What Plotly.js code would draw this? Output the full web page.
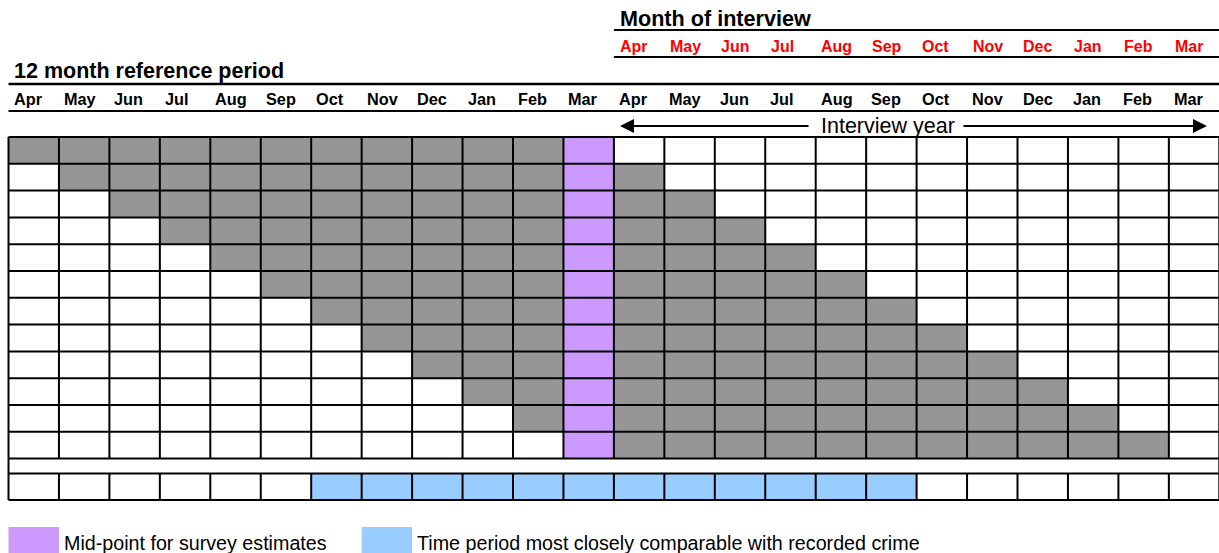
<!DOCTYPE html>
<html>
<head>
<meta charset="utf-8">
<script src="https://cdn.plot.ly/plotly-3.0.1.min.js"></script>
<style>html,body{margin:0;padding:0;background:#fff;}#chart{width:1219px;height:553px;}</style>
</head>
<body>
<div id="chart"></div>
<script>
// ---- data ----
const months = ['Apr','May','Jun','Jul','Aug','Sep','Oct','Nov','Dec','Jan','Feb','Mar'];
const referenceMonths = months.concat(months);          // 24 columns of the 12 month reference period
const interviewMonths = months;                          // month of interview (second half of grid)
// G = within reference period, P = mid-point, B = comparable with recorded crime, . = empty
const gridRows = [
  'GGGGGGGGGGGP............',
  '.GGGGGGGGGGPG...........',
  '..GGGGGGGGGPGG..........',
  '...GGGGGGGGPGGG.........',
  '....GGGGGGGPGGGG........',
  '.....GGGGGGPGGGGG.......',
  '......GGGGGPGGGGGG......',
  '.......GGGGPGGGGGGG.....',
  '........GGGPGGGGGGGG....',
  '.........GGPGGGGGGGGG...',
  '..........GPGGGGGGGGGG..',
  '...........PGGGGGGGGGGG.',
  '........................',
  '......BBBBBBBBBBBB......'
];
const legendLabels = ['Mid-point for survey estimates', 'Time period most closely comparable with recorded crime'];
const axisNote = 'Interview year';
const titleLeft = '12 month reference period';
const titleRight = 'Month of interview';

// ---- styling / layout helpers ----
const GRAY = '#969696', PURPLE = '#CC99FF', BLUE = '#99CCFF';
const codeVal = {'.':0, 'G':1, 'P':2, 'B':3};
const X0 = 8.5, CW = 50.45, Y0 = 137, RH = 26.8;
const px2x = p => (p - X0) / CW;
const px2y = p => (p - Y0) / RH;
const FONT = '"Liberation Sans", Arial, sans-serif';

const nCols = referenceMonths.length;
const xEdges = Array.from({length: nCols + 1}, (_, i) => i);
const yEdges = [];
for (let i = 0; i <= 12; i++) yEdges.push(i);
yEdges.push(px2y(473.5));
yEdges.push(px2y(500));

const z = gridRows.map(r => r.split('').map(ch => codeVal[ch]));

const trace = {
  type: 'heatmap', x: xEdges, y: yEdges, z: z,
  zmin: 0, zmax: 3, zsmooth: false, showscale: false, hoverinfo: 'skip',
  colorscale: [[0,'#FFFFFF'],[0.1667,'#FFFFFF'],[0.1667,GRAY],[0.5,GRAY],[0.5,PURPLE],[0.8333,PURPLE],[0.8333,BLUE],[1,BLUE]]
};

const shapes = [];
const line = (x0,y0,x1,y1,w) => shapes.push({type:'line', xref:'x', yref:'y', x0, y0, x1, y1, line:{color:'#000', width:w||2}});
// horizontal grid lines
yEdges.forEach(y => line(0, y, nCols, y, 2));
// vertical grid lines (not through the blank spacer row, except the outer border)
xEdges.forEach(x => { line(x, 0, x, 12, 2); line(x, yEdges[13], x, yEdges[14], 2); });
line(0, 12, 0, yEdges[13], 2);
line(nCols, 12, nCols, yEdges[13], 2);
// header rules
line(12, px2y(30), nCols, px2y(30), 2);
line(12, px2y(57), nCols, px2y(57), 2);
line(0, px2y(84), nCols, px2y(84), 2.5);
line(0, px2y(111), nCols, px2y(111), 2);
// legend swatches
shapes.push({type:'rect', xref:'x', yref:'y', x0:0, x1:1, y0:px2y(527), y1:px2y(560), fillcolor:PURPLE, line:{width:0}});
shapes.push({type:'rect', xref:'x', yref:'y', x0:7, x1:8, y0:px2y(527), y1:px2y(560), fillcolor:BLUE, line:{width:0}});

const ann = [];
const txt = (text, x, y, size, color, opts) => ann.push(Object.assign({text, x, y, xref:'x', yref:'y', showarrow:false, xanchor:'left', yanchor:'middle', font:{family:FONT, size, color}}, opts||{}));
txt('<b>' + titleRight + '</b>', px2x(618), px2y(18), 21.6, '#000');
txt('<b>' + titleLeft + '</b>', px2x(12), px2y(71), 21.5, '#000');
interviewMonths.forEach((m, i) => txt('<b>' + m + '</b>', 12 + i + 0.075, px2y(46), 16, '#FF0000'));
referenceMonths.forEach((m, i) => txt('<b>' + m + '</b>', i + 0.06, px2y(99), 16.3, '#000'));
txt(axisNote, px2x(888), px2y(126), 21.5, '#000', {xanchor:'center'});
txt(legendLabels[0], px2x(62), px2y(543), 19.7, '#000');
txt(legendLabels[1], px2x(415), px2y(543), 19.7, '#000');
// arrows
const arrow = (tip, tail) => ann.push({text:'', xref:'x', yref:'y', axref:'x', ayref:'y', x:px2x(tip), y:px2y(126), ax:px2x(tail), ay:px2y(126), showarrow:true, arrowhead:2, arrowsize:1.4, arrowwidth:2, arrowcolor:'#000', standoff:0, startstandoff:0});
arrow(620, 810);
arrow(1207, 962);

const layout = {
  width: 1219, height: 553,
  margin: {l:0, r:0, t:0, b:0, pad:0},
  paper_bgcolor: '#fff', plot_bgcolor: '#fff',
  xaxis: {range:[px2x(0), px2x(1219)], visible:false, fixedrange:true},
  yaxis: {range:[px2y(553), px2y(0)], visible:false, fixedrange:true},
  shapes: shapes, annotations: ann, showlegend:false
};
Plotly.newPlot('chart', [trace], layout, {staticPlot:true, displayModeBar:false});
</script>
</body>
</html>
